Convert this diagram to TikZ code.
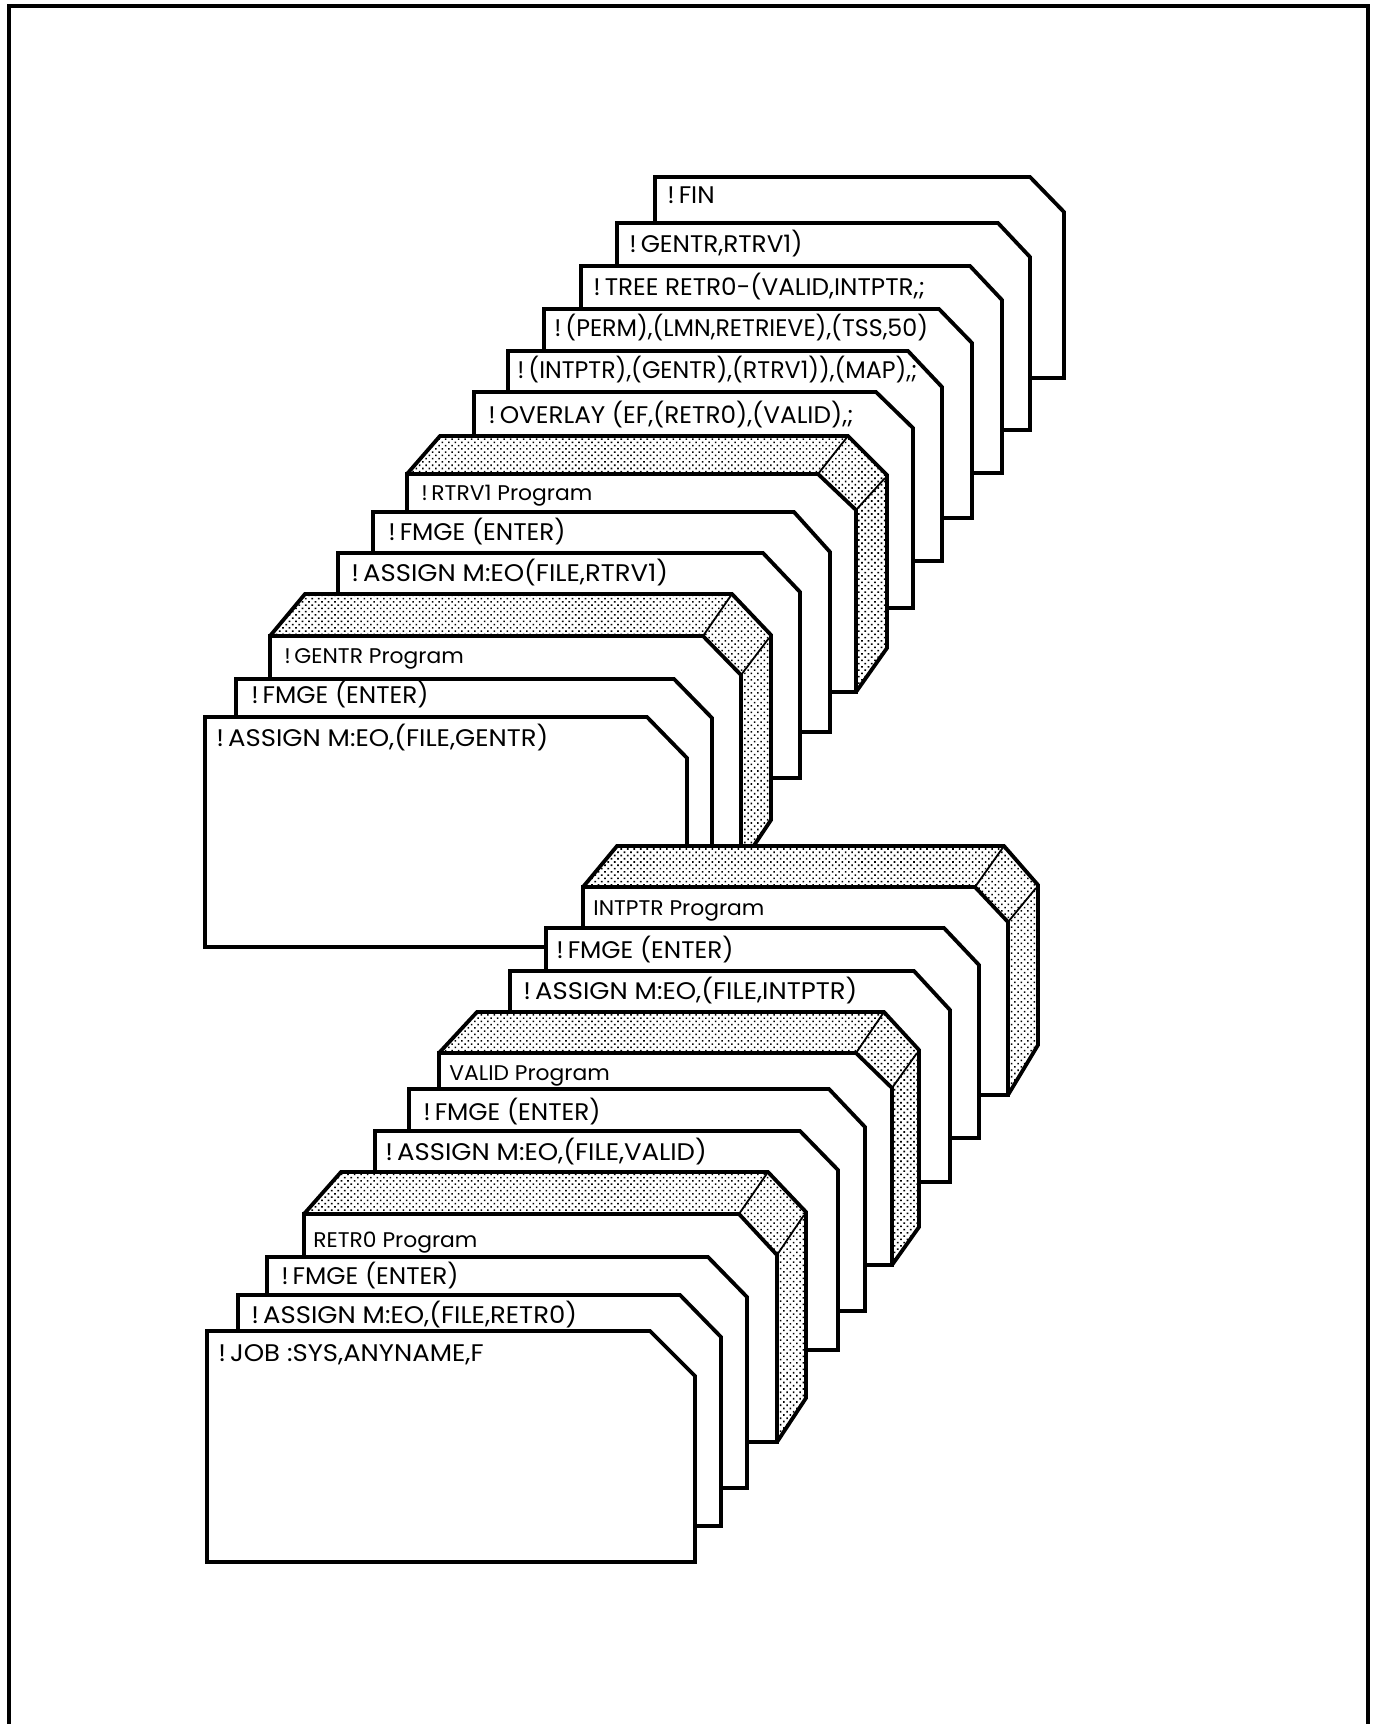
\documentclass[tikz,border=0pt]{standalone}
\usepackage{fontspec}
\setmainfont[FakeStretch=1.03]{Poppins}
\newfontfamily\myWideFont[FakeStretch=1.08]{Poppins}
\newfontfamily\myTightFont[FakeStretch=0.99]{Poppins}
\usetikzlibrary{patterns.meta}
\tikzset{
myCard/.style={
	draw=black,fill=white,line width=1.9pt,line join=miter
}
, myShade/.style={
	draw=black,line width=1.9pt,line join=miter,
	preaction={fill=white},
	pattern={Dots[distance=2.3pt,radius=0.56pt,angle=45]}
}
, myFold/.style={black,line width=0.9pt}
, myFrame/.style={black,line width=2pt}
, myLabel/.style={
	anchor=base west,inner sep=0pt,text=black,
	font=\fontsize{12}{14}\selectfont
}
, myWide/.style={myLabel,font=\fontsize{12}{14}\myWideFont}
, myTight/.style={myLabel,font=\fontsize{12}{14}\myTightFont}
, myProgram/.style={myLabel,font=\fontsize{10.6}{13}\selectfont}
}
\begin{document}
\begin{tikzpicture}[x=0.5pt,y=-0.5pt]
	\useasboundingbox (0,0) rectangle (1374,1724);
	% frame
	\draw[myFrame] (9,1724) -- (9,6) -- (1368,6) -- (1368,1724);

	% upper deck
	\draw[myCard] (655,378) -- (655,177) -- (1030,177) -- (1064,212) -- (1064,378) -- cycle;
	\node[myLabel] (Fin) at (667,203) {!\,FIN};
	\draw[myCard] (617,430) -- (617,223) -- (998,223) -- (1030,257) -- (1030,430) -- cycle;
	\node[myLabel] (Gentr) at (629,252) {!\,GENTR,RTRV1)};
	\draw[myCard] (581,473) -- (581,266) -- (970,266) -- (1002,300) -- (1002,473) -- cycle;
	\node[myLabel] (Tree) at (593,295) {!\,TREE RETR0-(VALID,INTPTR,;};
	\draw[myCard] (544,518) -- (544,309) -- (939,309) -- (972,343) -- (972,518) -- cycle;
	\node[myTight] (Perm) at (554,336) {!\,(PERM),(LMN,RETRIEVE),(TSS,50)};
	\draw[myCard] (508,561) -- (508,351) -- (908,351) -- (942,387) -- (942,561) -- cycle;
	\node[myTight] (Map) at (517,378) {!\,(INTPTR),(GENTR),(RTRV1)),(MAP),;};
	\draw[myCard] (474,608) -- (474,392) -- (876,392) -- (913,428) -- (913,608) -- cycle;
	\node[myLabel] (Overlay) at (488,423) {!\,OVERLAY (EF,(RETR0),(VALID),;};

	% RTRV1
	\draw[myShade] (407,474) -- (440,436) -- (848,436) -- (887,475) -- (887,648) -- (856,692) -- (407,692) -- cycle;
	\draw[myFold] (848,436) -- (818,474);
	\draw[myFold] (885,478) -- (856,510);
	\draw[myCard] (407,692) -- (407,474) -- (818,474) -- (856,510) -- (856,692) -- cycle;
	\node[myProgram] (RtrvProg) at (421,500) {!\,RTRV1 Program};
	\draw[myCard] (373,732) -- (373,512) -- (794,512) -- (830,552) -- (830,732) -- cycle;
	\node[myLabel] (RtrvFmge) at (388,540) {!\,FMGE (ENTER)};
	\draw[myCard] (338,778) -- (338,553) -- (763,553) -- (800,592) -- (800,778) -- cycle;
	\node[myWide] (RtrvAssign) at (351,581) {!\,ASSIGN M:EO(FILE,RTRV1)};

	% GENTR
	\draw[myShade] (270,636) -- (305,594) -- (732,594) -- (771,635) -- (771,820) -- (741,865) -- (270,865) -- cycle;
	\draw[myFold] (732,594) -- (703,636);
	\draw[myFold] (769,638) -- (741,675);
	\draw[myCard] (270,865) -- (270,636) -- (703,636) -- (741,675) -- (741,865) -- cycle;
	\node[myProgram] (GentrProg) at (284,663) {!\,GENTR Program};
	\draw[myCard] (236,900) -- (236,679) -- (674,679) -- (712,718) -- (712,900) -- cycle;
	\node[myLabel] (GentrFmge) at (251,703) {!\,FMGE (ENTER)};
	\draw[myCard] (205,947) -- (205,717) -- (647,717) -- (687,758) -- (687,947) -- cycle;
	\node[myWide] (GentrAssign) at (216,746) {!\,ASSIGN M:EO,(FILE,GENTR)};

	% INTPTR
	\draw[myShade] (583,887) -- (617,846) -- (1004,846) -- (1038,885) -- (1038,1045) -- (1008,1095) -- (583,1095) -- cycle;
	\draw[myFold] (1004,846) -- (975,887);
	\draw[myFold] (1036,888) -- (1008,922);
	\draw[myCard] (583,1095) -- (583,887) -- (975,887) -- (1008,922) -- (1008,1095) -- cycle;
	\node[myProgram] (IntptrProg) at (593,915) {INTPTR Program};
	\draw[myCard] (546,1138) -- (546,928) -- (944,928) -- (979,965) -- (979,1138) -- cycle;
	\node[myLabel] (IntptrFmge) at (556,958) {!\,FMGE (ENTER)};
	\draw[myCard] (510,1182) -- (510,971) -- (914,971) -- (950,1010) -- (950,1182) -- cycle;
	\node[myWide] (IntptrAssign) at (523,999) {!\,ASSIGN M:EO,(FILE,INTPTR)};

	% VALID
	\draw[myShade] (439,1053) -- (477,1012) -- (884,1012) -- (919,1050) -- (919,1227) -- (892,1265) -- (439,1265) -- cycle;
	\draw[myFold] (884,1012) -- (856,1053);
	\draw[myFold] (917,1053) -- (892,1088);
	\draw[myCard] (439,1265) -- (439,1053) -- (856,1053) -- (892,1088) -- (892,1265) -- cycle;
	\node[myProgram] (ValidProg) at (449,1080) {VALID Program};
	\draw[myCard] (409,1311) -- (409,1089) -- (829,1089) -- (865,1127) -- (865,1311) -- cycle;
	\node[myLabel] (ValidFmge) at (423,1120) {!\,FMGE (ENTER)};
	\draw[myCard] (375,1350) -- (375,1131) -- (800,1131) -- (838,1170) -- (838,1350) -- cycle;
	\node[myWide] (ValidAssign) at (385,1160) {!\,ASSIGN M:EO,(FILE,VALID)};

	% RETR0
	\draw[myShade] (304,1214) -- (341,1172) -- (768,1172) -- (806,1212) -- (806,1398) -- (777,1442) -- (304,1442) -- cycle;
	\draw[myFold] (768,1172) -- (739,1214);
	\draw[myFold] (804,1215) -- (777,1255);
	\draw[myCard] (304,1442) -- (304,1214) -- (739,1214) -- (777,1255) -- (777,1442) -- cycle;
	\node[myProgram] (RetroProg) at (313,1247) {RETR0 Program};
	\draw[myCard] (267,1488) -- (267,1257) -- (708,1257) -- (747,1297) -- (747,1488) -- cycle;
	\node[myLabel] (RetroFmge) at (281,1284) {!\,FMGE (ENTER)};
	\draw[myCard] (238,1526) -- (238,1295) -- (680,1295) -- (721,1337) -- (721,1526) -- cycle;
	\node[myWide] (RetroAssign) at (251,1323) {!\,ASSIGN M:EO,(FILE,RETR0)};
	\draw[myCard] (207,1562) -- (207,1331) -- (650,1331) -- (695,1376) -- (695,1562) -- cycle;
	\node[myWide] (Job) at (218,1361) {!\,JOB :SYS,ANYNAME,F};
\end{tikzpicture}
\end{document}
